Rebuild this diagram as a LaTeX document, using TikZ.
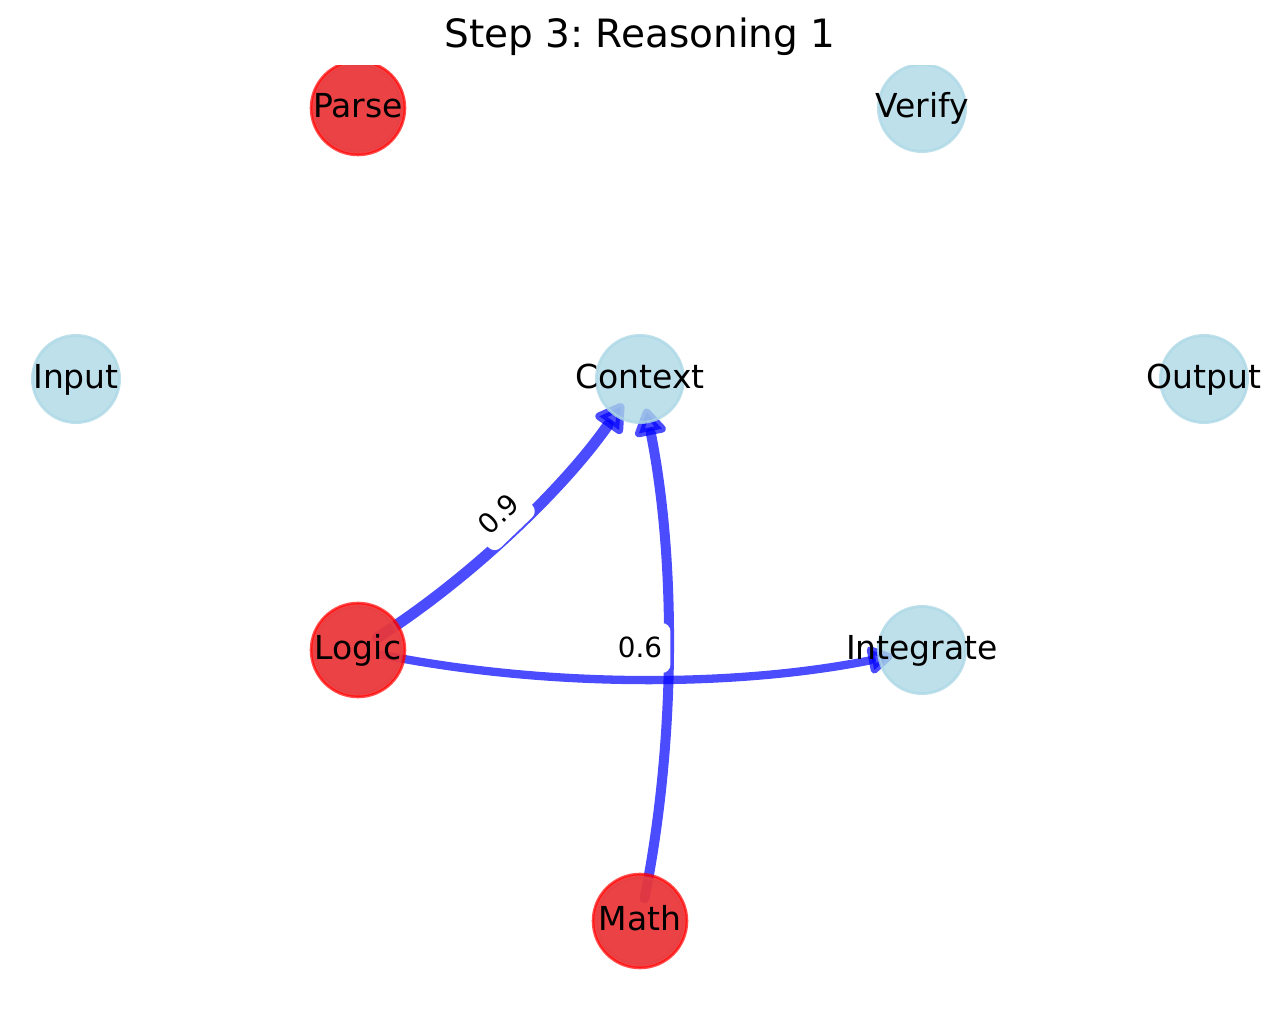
\documentclass[tikz,border=0pt]{standalone}
\usepackage{fontspec}
\setmainfont{DejaVu Sans}
\usetikzlibrary{arrows.meta}
\definecolor{lb}{RGB}{173,216,230}
\pgfdeclarelayer{edges}
\pgfsetlayers{edges,main}
\tikzset{
 basenode/.style={circle, inner sep=0pt, minimum size=43.6pt, fill=lb, draw=lb, line width=1.4pt, opacity=0.8},
 hinode/.style={circle, inner sep=0pt, minimum size=46.9pt, fill=red, draw=red, line width=1.4pt, opacity=0.7},
 lbl/.style={font=\fontsize{16.5pt}{19pt}\selectfont, text height=13.2pt, text depth=3.6pt, inner sep=0pt},
 wlbl/.style={font=\fontsize{13.9pt}{16pt}\selectfont, fill=white, rounded corners=4.2pt, inner xsep=4.15pt, inner ysep=4.15pt, text height=13.2pt, text depth=3.5pt},
 flow/.style={draw=blue, opacity=0.7, line cap=round, shorten <=11.5pt, shorten >=15pt},
 ttl/.style={font=\fontsize{19.5pt}{23pt}\selectfont, anchor=base, inner sep=0pt},
}
\begin{document}
\frenchspacing
\begin{tikzpicture}[x=0.5pt,y=-0.5pt]
\useasboundingbox (0,0) rectangle (1280,1010);
\begin{scope}
\clip (0,65.5) rectangle (1280,1010);
\node[basenode] (nParse) at (358,108) {};
\node[basenode] (nVerify) at (922,108) {};
\node[basenode] (nInput) at (76,379) {};
\node[basenode] (nContext) at (640,379) {};
\node[basenode] (nOutput) at (1204,379) {};
\node[basenode] (nLogic) at (358,650) {};
\node[basenode] (nIntegrate) at (922,650) {};
\node[basenode] (nMath) at (640,921) {};
\node[hinode] (hParse) at (358,108) {};
\node[hinode] (hLogic) at (358,650) {};
\node[hinode] (hMath) at (640,921) {};
\end{scope}
\begin{pgfonlayer}{edges}
\coordinate (k1) at (470.1,578.5);
\coordinate (k2) at (564.1,488.1);
\coordinate (k3) at (676.1,740.3);
\coordinate (k4) at (676.1,559.7);
\coordinate (k5) at (546,687.6);
\coordinate (k6) at (734,687.6);
\draw[flow, line width=5.5pt, -{Triangle[length=16pt,width=18pt,round]}] (nLogic.center) .. controls (k1) and (k2) .. (nContext.center);
\draw[flow, line width=5pt, -{Triangle[length=15.5pt,width=17.5pt,round]}] (nMath.center) .. controls (k3) and (k4) .. (nContext.center);
\draw[flow, line width=4.15pt, -{Triangle[length=14pt,width=15.5pt,round]}] (nLogic.center) .. controls (k5) and (k6) .. (nIntegrate.center);
\end{pgfonlayer}
\node[lbl] (tParse) at (358,108) {Parse};
\node[lbl] (tVerify) at (922,108) {Verify};
\node[lbl] (tInput) at (76,379) {Input};
\node[lbl] (tContext) at (640,379) {Context};
\node[lbl] (tOutput) at (1204,379) {Output};
\node[lbl] (tLogic) at (358,650) {Logic};
\node[lbl] (tIntegrate) at (922,650) {Integrate};
\node[lbl] (tMath) at (640,921) {Math};
\node[wlbl, rotate=43.86] (l09) at (499,514.5) {0.9};
\node[wlbl] (l06) at (640,648) {0.6};
\node[ttl] (title) at (640,48) {Step 3: Reasoning 1};
\end{tikzpicture}
\end{document}
